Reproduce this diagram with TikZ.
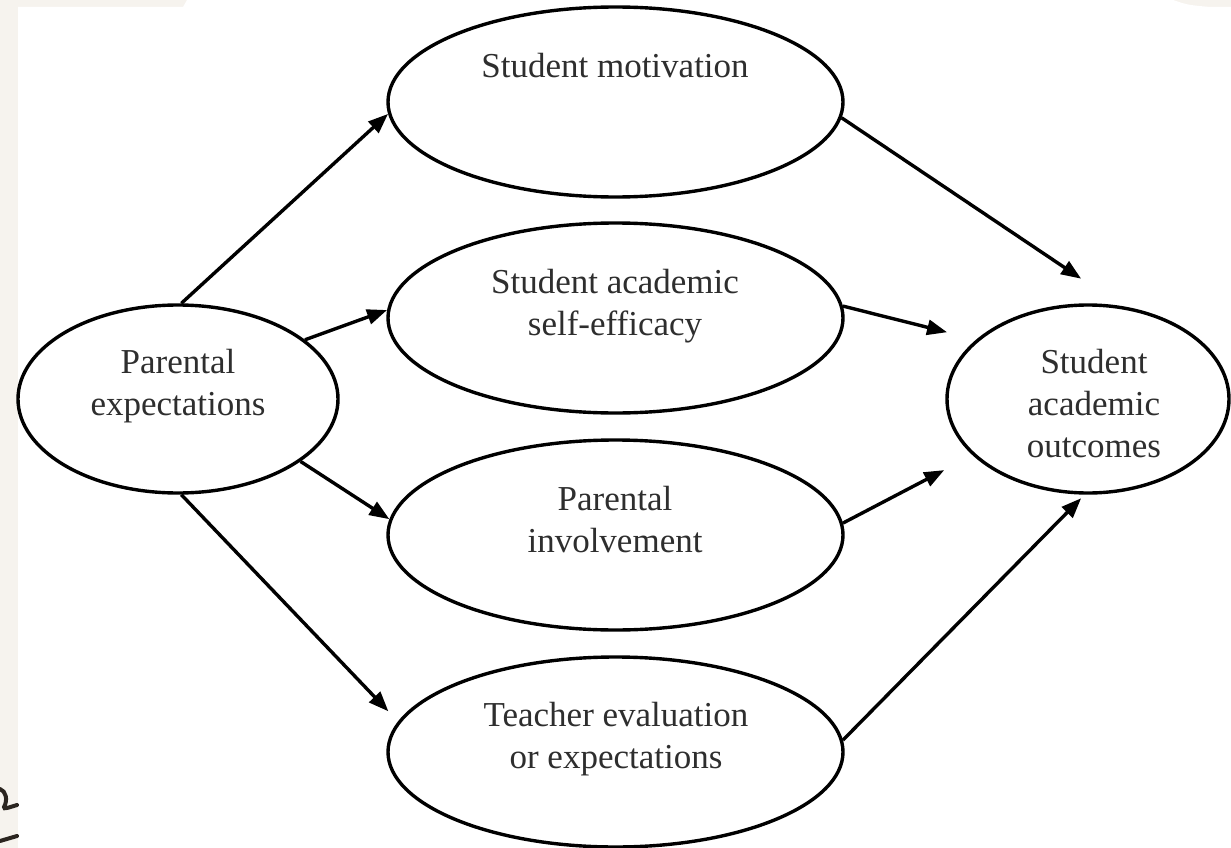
\documentclass[tikz,border=0pt]{standalone}
\usepackage{fontspec}
\setmainfont{Liberation Serif}
\usetikzlibrary{shapes.geometric,arrows.meta}
\definecolor{beige}{HTML}{F6F3EE}
\definecolor{txt}{HTML}{2E2E2E}
\definecolor{curl}{HTML}{2B2520}
\begin{document}
\begin{tikzpicture}[x=1pt,y=-1pt,
  oval/.style={ellipse,draw=black,line width=3.4pt,inner sep=0pt},
  mid/.style={oval,minimum width=455pt,minimum height=190pt},
  side/.style={oval,minimum height=188pt},
  lbl/.style={align=center,anchor=base,font=\fontsize{35}{42}\selectfont,text=txt,inner sep=0pt},
  arr/.style={line width=3.4pt,-{Triangle[length=20pt,width=15pt]}},
  curlstroke/.style={draw=curl,line width=4pt,line cap=round}]
\useasboundingbox (0,0) rectangle (1231,848);
% background
\fill[beige] (0,0) rectangle (1231,848);
\fill[white] (18,848) -- (18,7) -- (183,7) -- (187,0) -- (1173,0)
  .. controls (1188,5) .. (1210,7) -- (1231,7) -- (1231,848) -- cycle;
\draw[curlstroke] (0,789) .. controls (6,791) and (8,800) .. (4,807) .. controls (3,810) and (10,807) .. (17,805);
\draw[curlstroke] (0,841) -- (17,836);
% ellipses
\node[side,minimum width=320pt] (pe) at (178,399) {};
\node[mid] (sm) at (615.5,102) {};
\node[mid] (sae) at (615.5,318) {};
\node[mid] (pi) at (615.5,535) {};
\node[mid] (te) at (615.5,752) {};
\node[side,minimum width=282pt] (oc) at (1088,399) {};
% labels (anchor base = baseline of last line)
\node[lbl] (pet) at (178,415) {Parental\\expectations};
\node[lbl] (smt) at (615,78) {Student motivation};
\node[lbl] (saet) at (615,335) {Student academic\\self-efficacy};
\node[lbl] (pit) at (615,552) {Parental\\involvement};
\node[lbl] (tet) at (616,768) {Teacher evaluation\\or expectations};
\node[lbl] (oct) at (1094,457) {Student\\academic\\outcomes};
% arrows
\draw[arr] (pe.88) -- (sm.183);
\draw[arr] (pe.25) -- (sae.178.5);
\draw[arr] (pe.-27.6) -- (pi.176);
\draw[arr,shorten >=14pt] (pe.-88) -- (te.172);
\draw[arr,shorten >=49pt] (sm.-4) -- (oc.70.4);
\draw[arr,shorten >=30pt] (sae.3) -- (oc.152);
\draw[arr,shorten >=32pt] (pi.3) -- (oc.206.8);
\draw[arr,shorten >=5pt] (te.3) -- (oc.-92);
\end{tikzpicture}
\end{document}
